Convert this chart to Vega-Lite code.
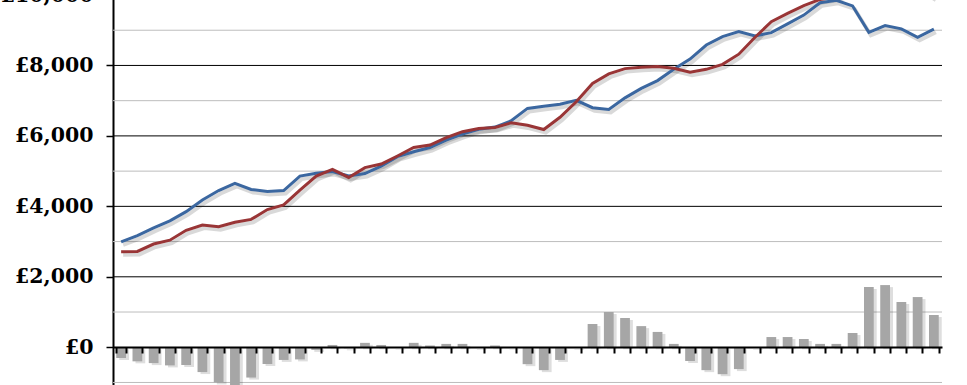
{
  "$schema": "https://vega.github.io/schema/vega-lite/v6.json",
  "width": 829,
  "height": 391,
  "autosize": {"type": "none"},
  "padding": {"left": 113, "top": -5, "right": 25, "bottom": 0},
  "background": "white",
  "config": {"view": {"stroke": null}},
  "datasets": {
    "series": [
      {"i": 0, "blue": 2990, "red": 2710, "diff": -305},
      {"i": 1, "blue": 3170, "red": 2720, "diff": -400},
      {"i": 2, "blue": 3390, "red": 2930, "diff": -450},
      {"i": 3, "blue": 3590, "red": 3040, "diff": -515},
      {"i": 4, "blue": 3850, "red": 3320, "diff": -505},
      {"i": 5, "blue": 4180, "red": 3470, "diff": -705},
      {"i": 6, "blue": 4450, "red": 3420, "diff": -1000},
      {"i": 7, "blue": 4650, "red": 3550, "diff": -1090},
      {"i": 8, "blue": 4480, "red": 3630, "diff": -860},
      {"i": 9, "blue": 4420, "red": 3910, "diff": -475},
      {"i": 10, "blue": 4450, "red": 4040, "diff": -360},
      {"i": 11, "blue": 4860, "red": 4460, "diff": -345},
      {"i": 12, "blue": 4940, "red": 4860, "diff": -75},
      {"i": 13, "blue": 4990, "red": 5050, "diff": 65},
      {"i": 14, "blue": 4860, "red": 4820, "diff": -30},
      {"i": 15, "blue": 4930, "red": 5100, "diff": 125},
      {"i": 16, "blue": 5140, "red": 5200, "diff": 65},
      {"i": 17, "blue": 5410, "red": 5430, "diff": -15},
      {"i": 18, "blue": 5550, "red": 5670, "diff": 125},
      {"i": 19, "blue": 5670, "red": 5740, "diff": 50},
      {"i": 20, "blue": 5880, "red": 5950, "diff": 95},
      {"i": 21, "blue": 6050, "red": 6120, "diff": 95},
      {"i": 22, "blue": 6190, "red": 6210, "diff": -20},
      {"i": 23, "blue": 6250, "red": 6240, "diff": 50},
      {"i": 24, "blue": 6430, "red": 6370, "diff": -15},
      {"i": 25, "blue": 6780, "red": 6300, "diff": -480},
      {"i": 26, "blue": 6840, "red": 6180, "diff": -650},
      {"i": 27, "blue": 6900, "red": 6530, "diff": -360},
      {"i": 28, "blue": 7010, "red": 6970, "diff": -20},
      {"i": 29, "blue": 6800, "red": 7490, "diff": 660},
      {"i": 30, "blue": 6750, "red": 7760, "diff": 1000},
      {"i": 31, "blue": 7080, "red": 7910, "diff": 830},
      {"i": 32, "blue": 7350, "red": 7950, "diff": 600},
      {"i": 33, "blue": 7570, "red": 7970, "diff": 435},
      {"i": 34, "blue": 7890, "red": 7920, "diff": 95},
      {"i": 35, "blue": 8180, "red": 7810, "diff": -390},
      {"i": 36, "blue": 8580, "red": 7890, "diff": -650},
      {"i": 37, "blue": 8820, "red": 8030, "diff": -765},
      {"i": 38, "blue": 8960, "red": 8320, "diff": -620},
      {"i": 39, "blue": 8840, "red": 8800, "diff": -20},
      {"i": 40, "blue": 8930, "red": 9240, "diff": 290},
      {"i": 41, "blue": 9180, "red": 9480, "diff": 290},
      {"i": 42, "blue": 9430, "red": 9700, "diff": 235},
      {"i": 43, "blue": 9780, "red": 9875, "diff": 95},
      {"i": 44, "blue": 9850, "red": 9945, "diff": 95},
      {"i": 45, "blue": 9690, "red": 10095, "diff": 405},
      {"i": 46, "blue": 8940, "red": 10650, "diff": 1710},
      {"i": 47, "blue": 9130, "red": 10895, "diff": 1765},
      {"i": 48, "blue": 9040, "red": 10325, "diff": 1285},
      {"i": 49, "blue": 8800, "red": 10225, "diff": 1425},
      {"i": 50, "blue": 9030, "red": 9945, "diff": 915}
    ],
    "minorGrid": [{"g": -1000}, {"g": 1000}, {"g": 3000}, {"g": 5000}, {"g": 7000}, {"g": 9000}],
    "majorGrid": [{"g": 2000}, {"g": 4000}, {"g": 6000}, {"g": 8000}, {"g": 10000}]
  },
  "layer": [
    {
      "data": {"name": "minorGrid"},
      "mark": {"type": "rule", "color": "#bdbdbd", "strokeWidth": 1},
      "encoding": {
        "y": {
          "field": "g",
          "type": "quantitative",
          "scale": {"domain": [-1100, 10000], "nice": false},
          "axis": {
            "title": null,
            "grid": false,
            "values": [0, 2000, 4000, 6000, 8000, 10000],
            "labelExpr": "'£' + format(datum.value, ',')",
            "labelFont": "DejaVu Serif",
            "labelFontWeight": "bold",
            "labelFontSize": 20.5,
            "labelColor": "black",
            "labelPadding": 13,
            "labelOverlap": false,
            "labelFlush": false,
            "tickSize": 7,
            "tickWidth": 1.5,
            "tickColor": "black",
            "domainColor": "black",
            "domainWidth": 2
          }
        }
      }
    },
    {
      "data": {"name": "majorGrid"},
      "mark": {"type": "rule", "color": "#000000", "strokeWidth": 1},
      "encoding": {
        "y": {"field": "g", "type": "quantitative", "scale": {"domain": [-1100, 10000], "nice": false}, "axis": {"title": null}}
      }
    },
    {
      "data": {"name": "series"},
      "layer": [
        {
          "mark": {"type": "bar", "color": "#000000", "opacity": 0.13, "xOffset": 3, "yOffset": 2},
          "encoding": {
            "y": {"field": "diff", "type": "quantitative", "scale": {"domain": [-1100, 10000], "nice": false}, "axis": {"title": null}}
          }
        },
        {
          "mark": {"type": "bar", "color": "#a6a6a6"},
          "encoding": {
            "y": {"field": "diff", "type": "quantitative", "scale": {"domain": [-1100, 10000], "nice": false}, "axis": {"title": null}}
          }
        },
        {
          "mark": {"type": "line", "color": "#000000", "opacity": 0.15, "strokeWidth": 4, "xOffset": 2, "yOffset": 3, "clip": true},
          "encoding": {
            "y": {"field": "blue", "type": "quantitative", "scale": {"domain": [-1100, 10000], "nice": false}, "axis": {"title": null}}
          }
        },
        {
          "mark": {"type": "line", "color": "#000000", "opacity": 0.15, "strokeWidth": 4, "xOffset": 2, "yOffset": 3, "clip": true},
          "encoding": {
            "y": {"field": "red", "type": "quantitative", "scale": {"domain": [-1100, 10000], "nice": false}, "axis": {"title": null}}
          }
        },
        {
          "mark": {"type": "line", "color": "#3b67a0", "strokeWidth": 3, "clip": true},
          "encoding": {
            "y": {"field": "blue", "type": "quantitative", "scale": {"domain": [-1100, 10000], "nice": false}, "axis": {"title": null}}
          }
        },
        {
          "mark": {"type": "line", "color": "#993536", "strokeWidth": 3, "clip": true},
          "encoding": {
            "y": {"field": "red", "type": "quantitative", "scale": {"domain": [-1100, 10000], "nice": false}, "axis": {"title": null}}
          }
        }
      ],
      "encoding": {
        "x": {
          "field": "i",
          "type": "ordinal",
          "scale": {"paddingInner": 0.4, "paddingOuter": 0.2},
          "axis": {
            "orient": "bottom",
            "offset": -39,
            "labels": false,
            "title": null,
            "grid": false,
            "domainColor": "black",
            "domainWidth": 2,
            "tickColor": "black",
            "tickWidth": 2,
            "tickSize": 6,
            "tickBand": "extent",
            "zindex": 1
          }
        }
      }
    }
  ]
}
